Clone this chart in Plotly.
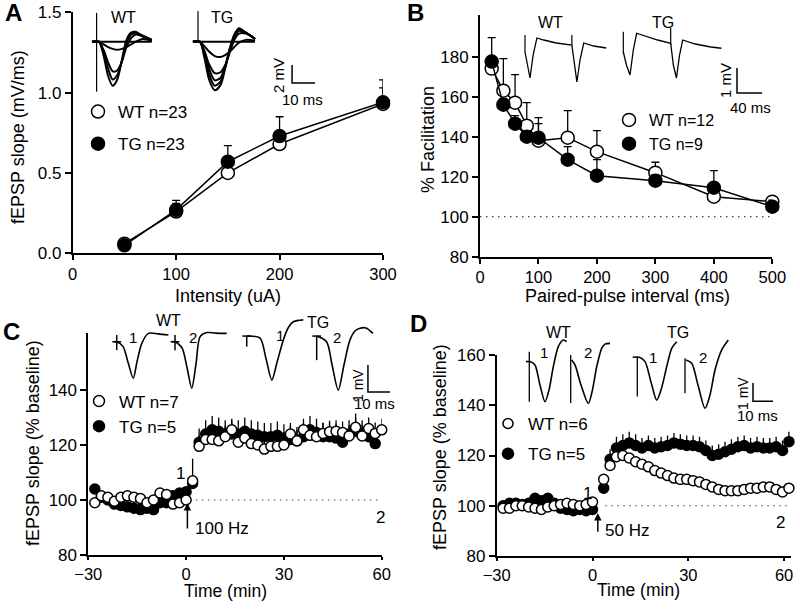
import plotly.graph_objects as go

# ---------------- DATA ----------------
# Panel A: input-output
A_INTENSITY = [50, 100, 150, 200, 300]
A_WT = [0.06, 0.26, 0.50, 0.68, 0.93]
A_WT_SE = [0.01, 0.05, 0.05, 0.03, 0.10]
A_TG = [0.05, 0.27, 0.57, 0.73, 0.94]
A_TG_SE = [0.01, 0.06, 0.10, 0.12, 0.14]

# Panel B: paired-pulse facilitation
B_INTERVAL = [20, 40, 60, 80, 100, 150, 200, 300, 400, 500]
B_WT = [174, 163, 157, 145.5, 138, 139.5, 132.5, 122, 110, 107.5]
B_WT_SE = [4, 16, 14, 11.5, 8.5, 13.5, 10.5, 5.2, 2, 2.5]
B_TG = [177.5, 156, 146.5, 140, 139.5, 128.5, 120.5, 118, 114.5, 105]
B_TG_SE = [12, 3, 4, 3, 10, 6.5, 8, 3, 8.5, 3.3]

# Panel C: LTP, 100 Hz
C_TIME_WT = [-28, -26, -24, -22, -20, -18, -16, -14, -12, -10, -8, -6, -4, -2, 0,
             2, 4, 6, 8, 10, 12, 14, 16, 18, 20, 22, 24, 26, 28, 30,
             32, 34, 36, 38, 40, 42, 44, 46, 48, 50, 52, 54, 56, 58, 60]
C_WT = [99, 101.5, 101, 99.5, 101, 101.5, 101, 100.5, 99, 100, 102.5, 102, 98.5, 99, 100,
        107, 119.5, 122, 122, 121.5, 123, 125.5, 121, 122.5, 120.5, 120, 118.5, 119.5, 119.5, 120,
        124, 121.5, 125.5, 123.5, 123, 124.2, 124.8, 125, 124.5, 123.3, 126.4, 123.3, 126, 124.2, 125.5]
C_WT_SE = [1.5, 1.5, 1.5, 1.5, 1.5, 1.5, 1.5, 1.5, 1.5, 1.5, 1.5, 1.5, 1.5, 1.5, 1.5,
           8, 4, 4, 4, 4, 4, 4, 4, 4, 4, 4, 4, 4, 4, 4,
           4, 4, 4, 4, 4, 4, 4, 4, 4, 4, 5, 4, 4, 4, 4]
C_TIME_TG = [-28, -26, -24, -22, -20, -18, -16, -14, -12, -10, -8, -6, -4, -2, 0,
             2, 4, 6, 8, 10, 12, 14, 16, 18, 20, 22, 24, 26, 28, 30,
             32, 34, 36, 38, 40, 42, 44, 46, 48, 50, 52, 54, 56, 58]
C_TG = [104, 101, 100, 98.5, 98, 97.5, 97, 96.5, 97, 96.5, 99, 99, 101.5, 102.5, 103,
        106, 121, 124, 125.5, 125, 124, 124, 124, 125, 124, 123.5, 123, 123, 123.5, 122.5,
        122, 121.5, 123, 125.5, 124.5, 123, 123, 122.5, 121, 124, 125, 124, 123, 120.5]
C_TG_SE = [1.5, 1.5, 1.5, 1.5, 1.5, 1.5, 1.5, 1.5, 1.5, 1.5, 1.5, 1.5, 1.5, 1.5, 1.5,
           3, 5, 5, 5, 5, 5, 5, 5, 5, 5, 5, 5, 5, 5, 5,
           5, 5, 5, 5, 5, 5, 5, 5, 5, 5, 5, 5, 5, 5]

# Panel D: LTP, 50 Hz
D_TIME = [-28, -26, -24, -22, -20, -18, -16, -14, -12, -10, -8, -6, -4, -2, 0,
          3.5, 5.5, 7.5, 9.5, 11.5, 13.5, 15.5, 17.5, 19.5, 21.5, 23.5, 25.5, 27.5, 29.5, 31.5,
          33.5, 35.5, 37.5, 39.5, 41.5, 43.5, 45.5, 47.5, 49.5, 51.5, 53.5, 55.5, 57.5, 59.5, 61.5]
D_WT = [99, 99, 100, 100, 99.5, 99, 98.5, 99.5, 100, 100.5, 101, 100.5, 100, 100.5, 101.5,
        110.5, 116, 119.5, 120, 119, 117.5, 116.5, 115.5, 114, 113, 112, 111, 110.5, 110.5, 110,
        109.5, 108.5, 107.5, 106.5, 106, 106, 106, 106.5, 107, 107, 107.5, 107.5, 106.5, 105.5, 107]
D_WT_SE = [1, 1, 1, 1, 1, 1, 1, 1, 1, 1, 1, 1, 1, 1, 1,
           2, 2, 2, 2, 2, 2, 2, 2, 2, 2, 2, 2, 2, 2, 2,
           2, 2, 2, 2, 2, 2, 2, 2, 2, 2, 2, 2, 2, 2, 2]
D_TG = [100, 101, 101, 100.5, 101, 103, 102, 103, 101, 99, 98.5, 98, 98.5, 98, 98.5,
        107, 118.5, 123, 124, 125, 124, 123, 124, 123, 123.5, 124, 125, 124.5, 124, 124,
        123.5, 122, 120, 120.5, 121.5, 122.5, 123.5, 124, 123, 123.5, 123, 123, 123.5, 122, 125.5]
D_TG_SE = [1, 1, 1, 1, 1, 1, 1, 1, 1, 1, 1, 1, 1, 1, 1,
           2, 4, 4.5, 4.5, 4.5, 4.5, 4, 4, 4, 4, 4, 4, 4, 4, 4,
           4, 4, 4, 4, 4, 4, 4, 4, 4, 4, 4, 4, 4, 4, 4]

BASELINE = 100

# Inset waveforms (ms, mV)
A_WT_TR_T = [0, 3, 5, 7, 9, 11, 13, 15, 17, 19, 22, 26]
A_WT_TRACES = [
    [0, 0, -1.5, -3.8, -4.9, -4.2, -2.0, 0.2, 1.0, 1.1, 0.6, 0.2],
    [0, 0, -1.2, -3.0, -4.2, -3.7, -2.2, -0.2, 0.8, 1.0, 0.7, 0.2],
    [0, 0, -0.9, -2.3, -3.3, -3.2, -2.2, -0.6, 0.4, 0.8, 0.6, 0.2],
    [0, 0, -0.3, -0.6, -0.8, -0.9, -0.8, -0.6, -0.3, 0.0, 0.3, 0.1],
    [0, 0, 0, 0, 0, 0, 0, 0, 0, 0, 0, 0],
]
A_TG_TR_T = [0, 3, 5, 7, 9.5, 12, 14, 16, 18, 20, 23, 27]
A_TG_TRACES = [
    [0, 0, -1.8, -4.2, -5.4, -4.8, -3.0, -0.8, 0.8, 1.5, 1.0, 0.3],
    [0, 0, -1.5, -3.6, -4.9, -4.4, -2.8, -0.8, 0.7, 1.4, 1.0, 0.3],
    [0, 0, -1.2, -3.0, -4.3, -4.0, -2.8, -1.0, 0.4, 1.2, 1.0, 0.3],
    [0, 0, -1.0, -2.5, -3.5, -3.4, -2.6, -1.2, 0.2, 0.9, 0.9, 0.3],
    [0, 0, -0.5, -1.1, -1.6, -1.7, -1.5, -1.1, -0.6, -0.1, 0.2, 0.1],
    [0, 0, 0, 0, 0, 0, 0, 0, 0, 0, 0, 0],
]
A_WT_STIM = [3.2, -5.55]
A_TG_STIM = [3.4, 0]

B_WT_TR_T = [0, 5, 8, 13, 19, 30, 50, 75, 80, 83, 88, 94, 110, 130]
B_WT_TR_V = [-0.08, -0.8, -1.12, -0.2, 0.48, 0.4, 0.28, 0.2, -0.8, -1.28, -0.4, 0.28, 0.16, 0.08]
B_TG_TR_T = [0, 5, 10.7, 16, 21.3, 35, 55, 75.8, 80, 85, 90, 95, 115, 140, 157]
B_TG_TR_V = [-0.08, -0.6, -1.0, 0, 0.67, 0.56, 0.4, 0.27, -0.6, -1.12, -0.2, 0.4, 0.24, 0.12, 0.07]
B_WT_STIM_T = [0, 75]
B_WT_STIM_TOP = [0.6, 0.6]
B_WT_STIM_BOT = [-0.08, 0.2]
B_TG_STIM_T = [0, 75.8]
B_TG_STIM_TOP = [0.73, 0.88]
B_TG_STIM_BOT = [-0.12, 0.2]

C_TR_T = [
    [-1.2, 0, 2.9, 5.1, 7.5, 9.2, 11.4, 14.4, 18.8, 23.5],
    [-1.4, 0, 3.2, 5.5, 7.6, 9.5, 11.4, 14.4, 18.6, 23.5],
    [0, 6.0, 8.7, 11.4, 13.8, 16.6, 18.8, 21.2, 25.7],
    [0, 4.5, 7.0, 9.8, 12.4, 15.1, 17.4, 19.7, 22.4, 25.6],
]
C_TR_V = [
    [-0.25, -0.25, -0.43, -1.0, -1.6, -1.0, -0.31, 0.06, 0.04, 0.0],
    [-0.25, -0.25, -0.48, -1.22, -1.97, -1.1, -0.06, 0.09, 0.07, 0.06],
    [-0.04, -0.11, -0.85, -1.67, -1.0, -0.19, 0.26, 0.49, 0.56],
    [-0.04, -0.25, -1.11, -2.04, -1.11, -0.19, 0.15, 0.25, 0.26, 0.06],
]
C_STIM_TOP = [0.0, 0.0, -0.04, -0.04]
C_STIM_BOT = [-0.56, -0.56, -0.43, -0.93]
C_STIM_BAR = [-0.25, -0.25, -0.04, -0.04]

D_TR_T = [
    [-1.65, 0.7, 2.85, 5.35, 7.85, 9.85, 12, 14.5, 17, 18.7],
    [0.5, 2.15, 5.15, 8.8, 10.65, 13, 15.5, 17.15, 19.65],
    [-2.3, 1, 3.85, 6.85, 9.7, 11.85, 14.7, 17.2, 19.7],
    [0.5, 3.35, 6.5, 10, 12.5, 15, 18.35, 21.65],
]
D_TR_V = [
    [-0.09, -0.09, -0.27, -1.37, -2.28, -1.64, -0.37, 0.73, 1.09, 1.0],
    [0, -0.27, -1.37, -2.37, -1.75, -0.37, 0.64, 0.87, 0.91],
    [0.15, 0.15, -0.09, -1.2, -2.19, -1.64, -0.37, 0.64, 1.0],
    [0, -0.18, -1.37, -2.64, -1.91, -0.55, 0.55, 1.09],
]
D_STIM_TOP = [0.45, 0.27, 0.18, 0.09]
D_STIM_BOT = [-2.28, -2.35, -2.0, -1.82]

# ---------------- LAYOUT HELPERS ----------------
FONT = "Liberation Sans, Arial, sans-serif"
W, H = 800, 610


def fx(p):
    return p / W


def fy(p):
    return 1 - p / H


def mk(filled, size):
    return dict(symbol="circle", size=size, color="black" if filled else "white",
                line=dict(color="black", width=1.5))


def err(arr, width):
    return dict(type="data", array=arr, arrayminus=[0] * len(arr), symmetric=False,
                color="black", thickness=1.3, width=width)


fig = go.Figure()

# ---- Panel A ----
for name, y, se, filled in [("WT", A_WT, A_WT_SE, False), ("TG", A_TG, A_TG_SE, True)]:
    fig.add_trace(go.Scatter(x=A_INTENSITY, y=y, mode="lines+markers", xaxis="x", yaxis="y",
                             line=dict(color="black", width=1.5), marker=mk(filled, 13),
                             error_y=err(se, 4), showlegend=False, cliponaxis=False))

# ---- Panel B ----
for name, y, se, filled in [("WT", B_WT, B_WT_SE, False), ("TG", B_TG, B_TG_SE, True)]:
    fig.add_trace(go.Scatter(x=B_INTERVAL, y=y, mode="lines+markers", xaxis="x2", yaxis="y2",
                             line=dict(color="black", width=1.5), marker=mk(filled, 13),
                             error_y=err(se, 4), showlegend=False, cliponaxis=False))

# ---- Panel C ----
fig.add_trace(go.Scatter(x=C_TIME_TG, y=C_TG, mode="markers", xaxis="x3", yaxis="y3",
                         marker=mk(True, 10), error_y=err(C_TG_SE, 0), showlegend=False, cliponaxis=False))
fig.add_trace(go.Scatter(x=C_TIME_WT, y=C_WT, mode="markers", xaxis="x3", yaxis="y3",
                         marker=mk(False, 10), error_y=err(C_WT_SE, 0), showlegend=False, cliponaxis=False))

# ---- Panel D ----
fig.add_trace(go.Scatter(x=D_TIME, y=D_TG, mode="markers", xaxis="x4", yaxis="y4",
                         marker=mk(True, 10), error_y=err(D_TG_SE, 0), showlegend=False, cliponaxis=False))
fig.add_trace(go.Scatter(x=D_TIME, y=D_WT, mode="markers", xaxis="x4", yaxis="y4",
                         marker=mk(False, 10), error_y=err(D_WT_SE, 0), showlegend=False, cliponaxis=False))

# ---- Legends (legend-only traces) ----
legend_items = [
    ("legend", "x", "y", "WT n=23", False, 13), ("legend", "x", "y", "TG n=23", True, 13),
    ("legend2", "x2", "y2", "WT n=12", False, 13), ("legend2", "x2", "y2", "TG n=9", True, 13),
    ("legend3", "x3", "y3", "WT n=7", False, 11), ("legend3", "x3", "y3", "TG n=5", True, 11),
    ("legend4", "x4", "y4", "WT n=6", False, 10), ("legend4", "x4", "y4", "TG n=5", True, 11),
]
for i, (lg, xa, ya, name, filled, size) in enumerate(legend_items):
    fig.add_trace(go.Scatter(x=[None], y=[None], mode="markers", xaxis=xa, yaxis=ya,
                             marker=mk(filled, size), name=name, legend=lg,
                             legendgroup="g%d" % i, showlegend=True))


# ---- Insets ----
def inset_line(xa, ya, t, v, off=0.0, width=1.5, shape="spline"):
    fig.add_trace(go.Scatter(x=[ti + off for ti in t], y=v, mode="lines", xaxis=xa, yaxis=ya,
                             line=dict(color="black", width=width, shape=shape, smoothing=0.8),
                             showlegend=False, hoverinfo="skip"))


# A inset (x5/y5)
A_TG_OFF = 43.9
for tr in A_WT_TRACES:
    inset_line("x5", "y5", A_WT_TR_T, tr, 0, 2.0)
for tr in A_TG_TRACES:
    inset_line("x5", "y5", A_TG_TR_T, tr, A_TG_OFF, 2.0)
inset_line("x5", "y5", [2, 2], A_WT_STIM, 0, 1.2, "linear")
inset_line("x5", "y5", [2.2, 2.2], A_TG_STIM, A_TG_OFF, 1.2, "linear")
A_BAR_MS, A_BAR_MV = 10, 2
inset_line("x5", "y5", [87, 87, 87 + A_BAR_MS], [-4.59 + A_BAR_MV, -4.59, -4.59], 0, 1.5, "linear")

# B inset (x6/y6)
B_TG_OFF = 157.3
inset_line("x6", "y6", B_WT_TR_T, B_WT_TR_V, 0, 1.3, "linear")
inset_line("x6", "y6", B_TG_TR_T, B_TG_TR_V, B_TG_OFF, 1.3, "linear")
for t, a, b in zip(B_WT_STIM_T, B_WT_STIM_TOP, B_WT_STIM_BOT):
    inset_line("x6", "y6", [t, t], [a, b], 0, 1.2, "linear")
for t, a, b in zip(B_TG_STIM_T, B_TG_STIM_TOP, B_TG_STIM_BOT):
    inset_line("x6", "y6", [t, t], [a, b], B_TG_OFF, 1.2, "linear")
B_BAR_MS, B_BAR_MV = 40, 1
inset_line("x6", "y6", [339.2, 339.2, 339.2 + B_BAR_MS], [-1.72 + B_BAR_MV, -1.72, -1.72], 0, 1.5, "linear")

# C inset (x7/y7)
C_OFF = [0, 26.5, 59.1, 90.9]
for k in range(4):
    inset_line("x7", "y7", C_TR_T[k], C_TR_V[k], C_OFF[k], 1.6)
    inset_line("x7", "y7", [0, 0], [C_STIM_TOP[k], C_STIM_BOT[k]], C_OFF[k], 1.5, "linear")
    inset_line("x7", "y7", [-2.0, 2.0], [C_STIM_BAR[k], C_STIM_BAR[k]], C_OFF[k], 1.5, "linear")
C_BAR_MS, C_BAR_MV = 10, 1
inset_line("x7", "y7", [114.2, 114.2, 114.2 + C_BAR_MS], [-2.11 + C_BAR_MV, -2.11, -2.11], 0, 1.5, "linear")

# D inset (x8/y8)
D_OFF = [0, 20.7, 54, 77.85]
for k in range(4):
    inset_line("x8", "y8", D_TR_T[k], D_TR_V[k], D_OFF[k], 1.6)
    inset_line("x8", "y8", [0, 0], [D_STIM_TOP[k], D_STIM_BOT[k]], D_OFF[k], 1.3, "linear")
D_BAR_MS, D_BAR_MV = 10, 1
inset_line("x8", "y8", [111.85, 111.85, 111.85 + D_BAR_MS], [-2.26 + D_BAR_MV, -2.26, -2.26], 0, 1.5, "linear")

# ---------------- AXES ----------------
ax = dict(showline=True, linecolor="black", linewidth=1.8, ticks="outside", ticklen=6,
          tickwidth=1.8, tickcolor="black", showgrid=False, zeroline=False, automargin=False,
          tickfont=dict(family=FONT, size=17, color="black"), fixedrange=True)
hid = dict(visible=False, fixedrange=True, showgrid=False, zeroline=False, automargin=False)
tf16 = dict(family=FONT, size=16.5, color="black")

layout = dict(
    template="none",
    width=W, height=H, margin=dict(l=0, r=0, t=0, b=0, autoexpand=False),
    paper_bgcolor="white", plot_bgcolor="rgba(0,0,0,0)",
    font=dict(family=FONT, color="black", size=17),
    xaxis=dict(ax, domain=[fx(72.7), fx(383)], range=[0, 300], tickvals=[0, 100, 200, 300], anchor="y",
               ticklen=5, tickfont=tf16),
    yaxis=dict(ax, domain=[fy(253.3), fy(12.3)], range=[0, 1.5], tickvals=[0, 0.5, 1.0, 1.5],
               tickformat=".1f", anchor="x"),
    xaxis2=dict(ax, domain=[fx(480), fx(772.3)], range=[0, 500], tickvals=[0, 100, 200, 300, 400, 500],
                anchor="y2", ticklen=5, tickfont=tf16),
    yaxis2=dict(ax, domain=[fy(256.7), fy(15)], range=[80, 200.8], tickvals=[80, 100, 120, 140, 160, 180],
                anchor="x2"),
    xaxis3=dict(ax, domain=[fx(88.3), fx(381.7)], range=[-30, 60], tickvals=[-30, 0, 30, 60], anchor="y3",
                ticklen=3, tickfont=tf16),
    yaxis3=dict(ax, domain=[fy(555), fy(333)], range=[80, 160.7], tickvals=[80, 100, 120, 140], anchor="x3"),
    xaxis4=dict(ax, domain=[fx(496.7), fx(790.5)], range=[-30, 62], tickvals=[-30, 0, 30, 60], anchor="y4",
                ticklen=3, tickfont=tf16),
    yaxis4=dict(ax, domain=[fy(556), fy(355)], range=[80, 160], tickvals=[80, 100, 120, 140, 160],
                anchor="x4"),
    xaxis5=dict(hid, domain=[fx(85), fx(330)], range=[-3.04, 103.5], anchor="y5"),
    yaxis5=dict(hid, domain=[fy(100), fy(10)], range=[-6.48, 3.52], anchor="x5"),
    xaxis6=dict(hid, domain=[fx(510), fx(775)], range=[-24, 400], anchor="y6"),
    yaxis6=dict(hid, domain=[fy(100), fy(20)], range=[-2, 1.2], anchor="x6"),
    xaxis7=dict(hid, domain=[fx(100), fx(395)], range=[-7.6, 126.5], anchor="y7"),
    yaxis7=dict(hid, domain=[fy(395), fy(315)], range=[-2.22, 0.74], anchor="x7"),
    xaxis8=dict(hid, domain=[fx(515), fx(780)], range=[-7.15, 125.35], anchor="y8"),
    yaxis8=dict(hid, domain=[fy(415), fy(330)], range=[-3.005, 1.639], anchor="x8"),
)

lg = dict(bgcolor="rgba(0,0,0,0)", borderwidth=0, xanchor="left", yanchor="top",
          traceorder="grouped", itemsizing="trace", itemclick=False, itemdoubleclick=False)
layout["legend"] = dict(lg, x=fx(78), y=fy(94), font=dict(family=FONT, size=17), tracegroupgap=7)
layout["legend2"] = dict(lg, x=fx(609), y=fy(103), font=dict(family=FONT, size=16), tracegroupgap=0)
layout["legend3"] = dict(lg, x=fx(79), y=fy(383.5), font=dict(family=FONT, size=17), tracegroupgap=0)
layout["legend4"] = dict(lg, x=fx(488), y=fy(406), font=dict(family=FONT, size=17), tracegroupgap=5)

fig.update_layout(**layout)

# dotted baselines
dot = dict(color="#444", width=1.2, dash="1.5px,4.5px")
fig.add_shape(type="line", xref="x2 domain", yref="y2", x0=0, x1=1, y0=BASELINE, y1=BASELINE, line=dot,
              layer="below")
fig.add_shape(type="line", xref="x3", yref="y3", x0=3, x1=60, y0=BASELINE, y1=BASELINE, line=dot,
              layer="below")
fig.add_shape(type="line", xref="x4", yref="y4", x0=4, x1=61, y0=BASELINE, y1=BASELINE, line=dot,
              layer="below")


# ---------------- TEXT ----------------
def txt(x, y, s, size=17, bold=False, angle=0, xanchor="center"):
    fig.add_annotation(x=fx(x), y=fy(y), xref="paper", yref="paper", text="<b>%s</b>" % s if bold else s,
                       showarrow=False, textangle=angle, xanchor=xanchor, yanchor="middle",
                       font=dict(family=FONT, size=size, color="black"))


# panel letters
txt(13, 13, "A", 24, True)
txt(415, 13, "B", 24, True)
txt(11, 331, "C", 24, True)
txt(418, 324, "D", 24, True)

# axis titles
txt(228, 296, "Intensity (uA)", 18)
txt(18, 137, "fEPSP slope (mV/ms)", 18, angle=-90)
txt(627, 296, "Paired-pulse interval (ms)", 18)
txt(428, 140, "% Facilitation", 18, angle=-90)
txt(225, 591, "Time (min)", 17.5)
txt(33, 443, "fEPSP slope (% baseline)", 18, angle=-90)
txt(638, 590, "Time (min)", 17.5)
txt(440, 447, "fEPSP slope (% baseline)", 18, angle=-90)

# inset labels
txt(123, 18, "WT", 16)
txt(222, 18, "TG", 16)
txt(278, 76, "2 mV", 15, angle=-90)
txt(302, 100, "10 ms", 15)

txt(550, 23, "WT", 16)
txt(663, 23, "TG", 16)
txt(725, 81, "1 mV", 15, angle=-90)
txt(750, 107, "40 ms", 15)

txt(168, 320, "WT", 16)
txt(318, 322, "TG", 16)
txt(133, 337, "1", 15)
txt(193, 337, "2", 15)
txt(280, 335, "1", 15)
txt(337, 337, "2", 15)
txt(358, 386, "1 mV", 14, angle=-90)
txt(374, 403, "10 ms", 15)

txt(558, 332, "WT", 16)
txt(678, 332, "TG", 16)
txt(544, 352, "1", 15)
txt(588, 352, "2", 15)
txt(653, 357, "1", 15)
txt(703, 357, "2", 15)
txt(743, 394, "1 mV", 14, angle=-90)
txt(757, 415, "10 ms", 15)

# "1" / "2" markers on time course
txt(180, 473, "1", 17)
txt(380, 517, "2", 17)
txt(587, 493, "1", 17)
txt(780, 522, "2", 17)

# tetanus arrows
fig.add_annotation(x=0.4, y=98.9, xref="x3", yref="y3", ax=0.4, ay=89.1, axref="x3", ayref="y3",
                   text="", showarrow=True, arrowhead=2, arrowsize=1, arrowwidth=1.5, arrowcolor="black")
txt(193, 528, "100 Hz", 17, xanchor="left")
fig.add_annotation(x=1.66, y=97.1, xref="x4", yref="y4", ax=1.66, ay=89.1, axref="x4", ayref="y4",
                   text="", showarrow=True, arrowhead=2, arrowsize=1, arrowwidth=1.5, arrowcolor="black")
txt(603, 530, "50 Hz", 17, xanchor="left")

fig.write_html("out.html", config={"displayModeBar": False},
               post_script="document.body.style.margin='0';document.body.style.overflow='hidden';")
